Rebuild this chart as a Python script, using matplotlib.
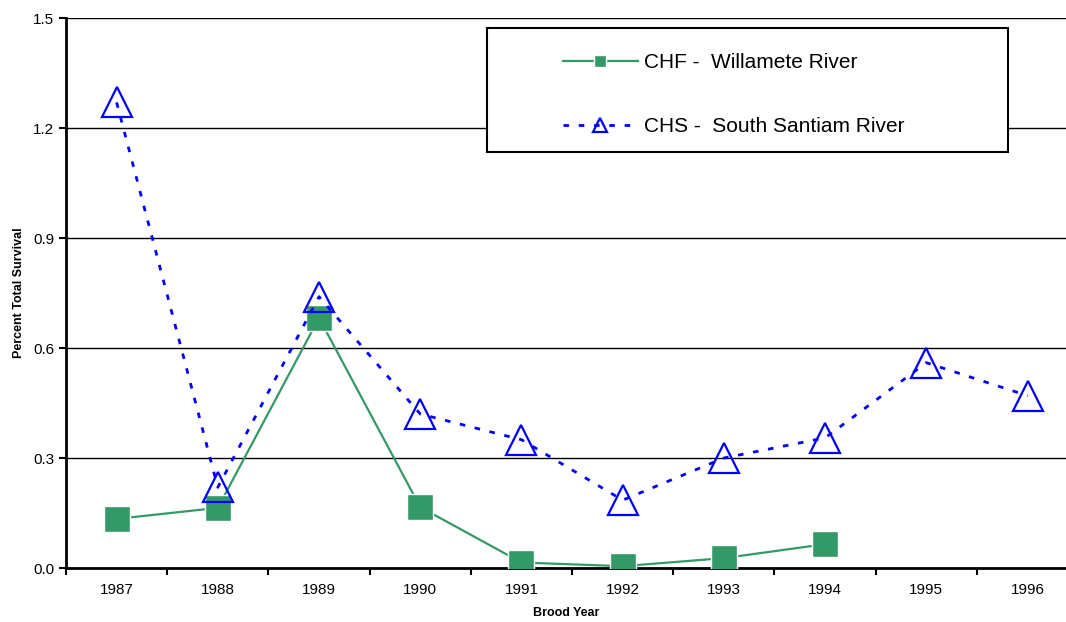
import matplotlib.pyplot as plt
from matplotlib.patches import Rectangle
import numpy as np

# Data
years = ['1987', '1988', '1989', '1990', '1991', '1992', '1993', '1994', '1995', '1996']
chf = [0.134, 0.164, 0.682, 0.166, 0.015, 0.005, 0.027, 0.065]
chs = [1.27, 0.22, 0.74, 0.42, 0.35, 0.185, 0.30, 0.355, 0.56, 0.47]

plt.rcParams['font.family'] = ['Liberation Sans', 'DejaVu Sans']

fig = plt.figure(figsize=(10.66, 6.22), dpi=100)
ax = fig.add_axes([0.0619, 0.0868, 0.9381, 0.8842])

x = np.arange(len(years))

ax.plot(x[:len(chf)], chf, color='#339966', lw=1.6, marker='s', ms=19,
        mfc='#339966', mec='white', mew=1.0, label='CHF -  Willamete River', zorder=3)
ax.plot(x, chs, color='#0000ff', lw=2, linestyle=(0, (2, 3.5)), marker='^', ms=21,
        mfc='none', mec='#0000ff', mew=1.6, label='CHS -  South Santiam River', zorder=4)

ax.set_xlim(-0.5, 9.38)
ax.set_ylim(0, 1.5)
ax.set_yticks([0, 0.3, 0.6, 0.9, 1.2, 1.5])
ax.set_yticklabels(['0.0', '0.3', '0.6', '0.9', '1.2', '1.5'])
ax.yaxis.grid(True, color='black', lw=1)
ax.set_axisbelow(True)

# category ticks between years, labels in the middle
ax.set_xticks(np.arange(-0.5, 9.5, 1))
ax.set_xticklabels([])
ax.set_xticks(x, minor=True)
ax.set_xticklabels(years, minor=True)
ax.tick_params(axis='x', which='minor', length=0, pad=11, labelsize=11)
ax.tick_params(axis='x', which='major', length=5, width=1.5, direction='out')
ax.tick_params(axis='y', length=5, width=1.5, direction='out', labelsize=11)

for s in ['top', 'right']:
    ax.spines[s].set_visible(False)
ax.spines['left'].set_linewidth(2)
ax.spines['bottom'].set_linewidth(2)

ax.set_xlabel('Brood Year', fontsize=9, fontweight='bold', labelpad=7)
ax.set_ylabel('Percent Total Survival', fontsize=9, fontweight='bold', labelpad=6)

# legend box
ax.add_patch(Rectangle((0.421, 0.756), 0.521, 0.226, transform=ax.transAxes,
                       facecolor='white', edgecolor='black', lw=1.5, zorder=5))
leg = ax.legend(loc='upper left', bbox_to_anchor=(0.497, 0.936), fontsize=15,
                frameon=False, borderpad=0, labelspacing=2.15, handlelength=3.6,
                handletextpad=0.3, borderaxespad=0, markerscale=0.45)
leg.set_zorder(6)

fig.savefig('out.png', dpi=100)
